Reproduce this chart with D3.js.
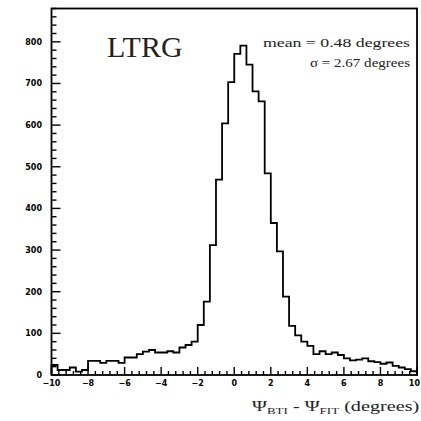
<!DOCTYPE html>
<html>
<head>
<meta charset="utf-8">
<script src="https://cdn.jsdelivr.net/npm/d3@7"></script>
<style>
  html, body { margin: 0; padding: 0; background: #fff; }
  svg { display: block; }
</style>
</head>
<body>
<svg id="chart" width="421" height="421"></svg>
<script>
// Histogram of psi(BTI) - psi(FIT), 60 bins of 1/3 degree from -10 to 10
const binLow = -10;
const binCount = 60;
const binWidth = 1 / 3;
const counts = [
  24, 12, 12, 18, 8, 12, 34, 34, 29, 34,
  34, 29, 42, 42, 50, 56, 60, 54, 54, 57,
  54, 66, 72, 80, 120, 176, 312, 469, 604, 703,
  771, 791, 745, 681, 657, 484, 365, 297, 188, 118,
  95, 80, 70, 50, 57, 50, 54, 48, 40, 35,
  37, 40, 33, 31, 27, 30, 22, 18, 14, 9
];
const xTickValues = [-10, -8, -6, -4, -2, 0, 2, 4, 6, 8, 10];
const yTickValues = [0, 100, 200, 300, 400, 500, 600, 700, 800];
const statLines = ["mean = 0.48 degrees", "\u03c3 = 2.67 degrees"];
const tagText = "LTRG";

const svg = d3.select("#chart");
const plotL = 51.5, plotR = 417, plotT = 8.5, plotB = 375;

const x = d3.scaleLinear().domain([-10, 10]).range([plotL, plotR]);
const y = d3.scaleLinear().domain([0, 880]).range([plotB, plotT]);

// Frame
svg.append("rect")
  .attr("x", plotL).attr("y", plotT)
  .attr("width", plotR - plotL).attr("height", plotB - plotT)
  .attr("fill", "none").attr("stroke", "#000").attr("stroke-width", 1.8);

// Histogram outline as a step path
const pts = [[binLow, 0]];
counts.forEach((c, i) => pts.push([binLow + i * binWidth, c]));
pts.push([binLow + binCount * binWidth, counts[counts.length - 1]]);
pts.push([binLow + binCount * binWidth, 0]);
const line = d3.line().x(d => x(d[0])).y(d => y(d[1])).curve(d3.curveStepAfter);
svg.append("path").attr("d", line(pts))
  .attr("fill", "none").attr("stroke", "#000").attr("stroke-width", 1.8)
  .attr("stroke-linejoin", "miter");

// Y axis ticks drawn inward
const yMinor = d3.range(0, 881, 20);
svg.append("g").selectAll("line").data(yMinor).join("line")
  .attr("x1", plotL).attr("x2", d => plotL + (d % 100 === 0 ? 9 : 5))
  .attr("y1", d => y(d)).attr("y2", d => y(d))
  .attr("stroke", "#000").attr("stroke-width", 1.4);
svg.append("g").selectAll("text").data(yTickValues).join("text")
  .attr("x", 42).attr("y", d => y(d)).attr("dy", "0.36em")
  .attr("text-anchor", "end")
  .attr("font-family", "DejaVu Sans").attr("font-weight", "bold")
  .attr("font-size", 8).attr("fill", "#000")
  .text(d => d);

// X axis ticks drawn inward
const xMinor = d3.range(0, 51).map(i => -10 + i * 0.4);
svg.append("g").selectAll("line").data(xMinor).join("line")
  .attr("x1", d => x(d)).attr("x2", d => x(d))
  .attr("y1", plotB)
  .attr("y2", (d, i) => plotB - (i % 5 === 0 ? 8 : 4))
  .attr("stroke", "#000").attr("stroke-width", 1.4);
const lastTick = xTickValues[xTickValues.length - 1];
svg.append("g").selectAll("text").data(xTickValues).join("text")
  .attr("x", d => d === lastTick ? 420 : x(d)).attr("y", 386)
  .attr("text-anchor", d => d === lastTick ? "end" : "middle")
  .attr("font-family", "DejaVu Sans").attr("font-weight", "bold")
  .attr("font-size", 8).attr("fill", "#000")
  .text(d => d < 0 ? "\u2212" + Math.abs(d) : d);

// Tag
svg.append("text")
  .attr("x", 107).attr("y", 57)
  .attr("font-family", "Liberation Serif").attr("font-size", 30)
  .attr("fill", "#222")
  .text(tagText);

// Statistics text, right aligned and stretched to its box width
function fitText(sel, width) {
  sel.attr("textLength", width).attr("lengthAdjust", "spacingAndGlyphs");
}
const stat1 = svg.append("text")
  .attr("x", 410).attr("y", 47).attr("text-anchor", "end")
  .attr("font-family", "Liberation Serif").attr("font-size", 12.5)
  .attr("fill", "#222").text(statLines[0]);
fitText(stat1, 147);
const stat2 = svg.append("text")
  .attr("x", 410).attr("y", 67).attr("text-anchor", "end")
  .attr("font-family", "Liberation Serif").attr("font-size", 12.5)
  .attr("fill", "#222").text(statLines[1]);
fitText(stat2, 100);

// Axis title
const title = svg.append("text")
  .attr("font-family", "Liberation Serif").attr("font-size", 14)
  .attr("fill", "#222");
title.append("tspan").text("\u03a8");
title.append("tspan").attr("font-size", 9).attr("dy", 3).text("BTI");
title.append("tspan").attr("dy", -3).text(" - \u03a8");
title.append("tspan").attr("font-size", 9).attr("dy", 3).text("FIT");
title.append("tspan").attr("dy", -3).text(" (degrees)");
const bb = title.node().getBBox();
const sx = 168 / bb.width;
title.attr("transform", `translate(${252 - bb.x * sx},411) scale(${sx},1)`);
</script>
</body>
</html>
